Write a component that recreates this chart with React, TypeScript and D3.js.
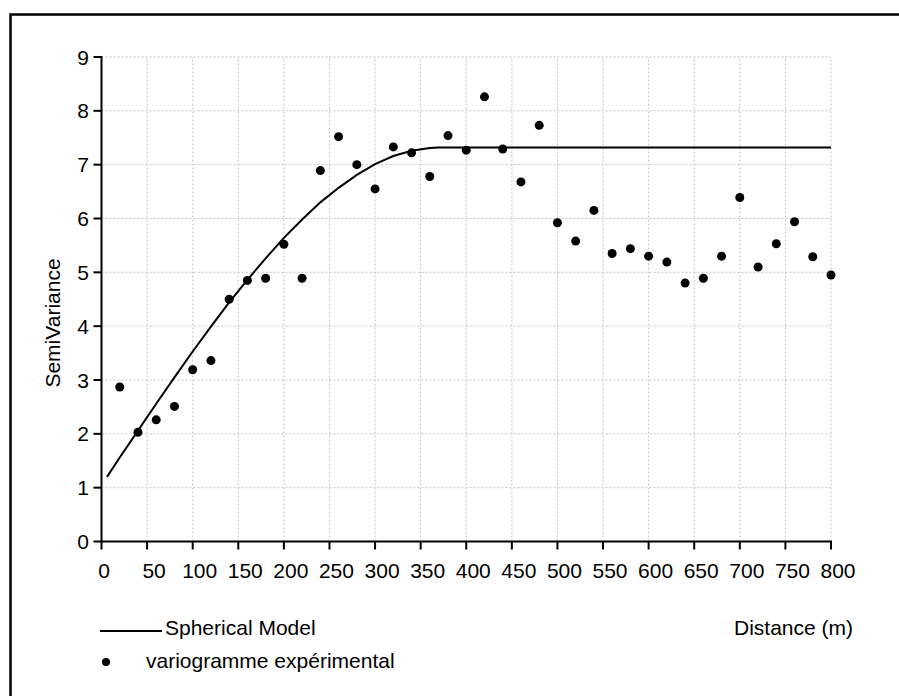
import React from "react";
import * as d3 from "d3";

const distances = [20,40,60,80,100,120,140,160,180,200,220,240,260,280,300,320,340,360,380,400,420,440,460,480,500,520,540,560,580,600,620,640,660,680,700,720,740,760,780,800];
const semivariance = [2.87,2.03,2.26,2.51,3.19,3.36,4.50,4.85,4.89,5.52,4.89,6.89,7.52,7.00,6.55,7.33,7.22,6.78,7.54,7.27,8.26,7.29,6.68,7.73,5.92,5.58,6.15,5.35,5.44,5.30,5.19,4.80,4.89,5.30,6.39,5.10,5.53,5.94,5.29,4.95];
const modelDist = [6,20,40,60,80,100,120,140,160,180,200,220,240,260,280,300,320,340,360,370,800];
const modelVal = [1.20,1.56,2.06,2.56,3.05,3.53,3.99,4.44,4.86,5.26,5.64,5.98,6.30,6.57,6.81,7.01,7.16,7.26,7.31,7.32,7.32];
const xTicks = [0,50,100,150,200,250,300,350,400,450,500,550,600,650,700,750,800];
const yTicks = [0,1,2,3,4,5,6,7,8,9];

const W = 899, H = 696;
const FONT = "'Liberation Sans', Arial, sans-serif";
const FS = 21;

export default function App() {
  const x = d3.scaleLinear().domain([0, 800]).range([101.5, 831]);
  const y = d3.scaleLinear().domain([0, 9]).range([541.5, 57]);
  const line = d3.line<number>().x((_, i) => x(modelDist[i])).y((d) => y(d));
  const x0 = x(0), x1 = x(800), y0 = y(0), y1 = y(9);
  return (
    <svg width={W} height={H} style={{ position: "absolute", left: 0, top: 0, background: "#fff" }} fontFamily={FONT}>
      <rect x={0} y={0} width={W} height={H} fill="#fff" />
      <rect x={10.5} y={14.5} width={1000} height={1000} fill="none" stroke="#000" strokeWidth={2.5} />
      <g stroke="#c4c4c4" strokeWidth={1} strokeDasharray="2,2">
        {xTicks.filter((t) => t > 0).map((t) => (
          <line key={"gx" + t} x1={x(t)} x2={x(t)} y1={y0} y2={y1} />
        ))}
        {yTicks.filter((t) => t > 0).map((t) => (
          <line key={"gy" + t} x1={x0} x2={x1} y1={y(t)} y2={y(t)} />
        ))}
      </g>
      <g stroke="#000" strokeWidth={2}>
        <line x1={x0} x2={x0} y1={y1 - 1} y2={y0 + 1} />
        <line x1={x0 - 1} x2={x1 + 1} y1={y0} y2={y0} />
        {yTicks.map((t) => (
          <line key={"ty" + t} x1={x0 - 8} x2={x0} y1={y(t)} y2={y(t)} />
        ))}
        {xTicks.map((t) => (
          <line key={"tx" + t} x1={x(t)} x2={x(t)} y1={y0} y2={y0 + 8} />
        ))}
      </g>
      <g fontSize={FS} fill="#000">
        {yTicks.map((t) => (
          <text key={"ly" + t} x={x0 - 12.5} y={y(t) + 7.5} textAnchor="end">{t}</text>
        ))}
        {xTicks.map((t) => (
          <text key={"lx" + t} x={x(t) + (t === 0 ? 2.6 : 7)} y={578} textAnchor="middle">{t}</text>
        ))}
      </g>
      <text transform="translate(60,323) rotate(-90)" textAnchor="middle" fontSize={FS}>SemiVariance</text>
      <path d={line(modelVal) || ""} fill="none" stroke="#000" strokeWidth={2} />
      <g fill="#000">
        {distances.map((d, i) => (
          <circle key={"p" + d} cx={x(d)} cy={y(semivariance[i])} r={4.5} />
        ))}
      </g>
      <line x1={100} x2={162} y1={631} y2={631} stroke="#000" strokeWidth={2} />
      <text x={165} y={635} fontSize={FS}>Spherical Model</text>
      <circle cx={106} cy={662} r={4} fill="#000" />
      <text x={146} y={668} fontSize={FS}>variogramme expérimental</text>
      <text x={734} y={635} fontSize={FS}>Distance (m)</text>
    </svg>
  );
}
